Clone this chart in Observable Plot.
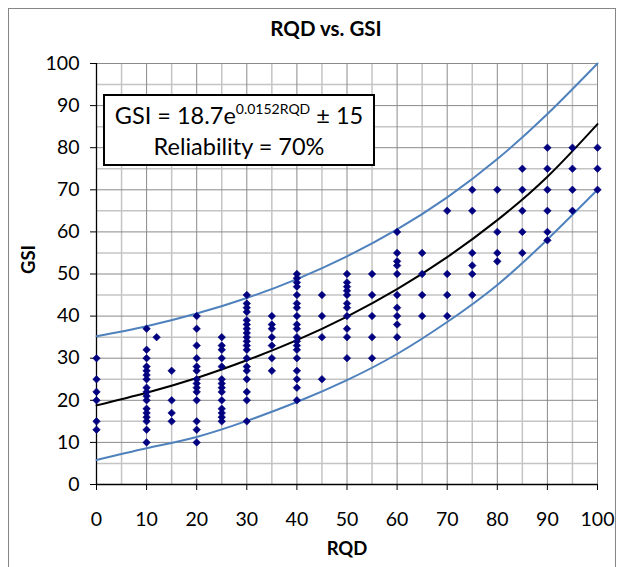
<!DOCTYPE html>
<html>
<head>
<meta charset="utf-8">
<script src="https://cdn.jsdelivr.net/npm/d3@7"></script>
<script src="https://cdn.jsdelivr.net/npm/@observablehq/plot@0.6"></script>
<style>
  html, body { margin: 0; padding: 0; background: #fff; }
  #wrap { position: relative; width: 624px; height: 567px; font-family: Lato, "Open Sans", sans-serif; overflow: hidden; }
  #frame { position: absolute; left: 8px; top: 8px; width: 608px; height: 600px; border: 1px solid #868686; box-sizing: border-box; }
  #title { position: absolute; left: 226px; width: 200px; top: 16px; text-align: center; font-weight: bold; font-size: 20.5px; color: #000; }
  #eq { position: absolute; left: 103px; top: 94px; width: 272px; height: 72px; border: 2px solid #000; background: #fff; box-sizing: border-box; text-align: center; font-size: 23.5px; line-height: 31px; color: #000; padding-top: 4px; }
  #eq sup { font-size: 14px; line-height: 0; vertical-align: 0; position: relative; top: -10px; }
  #chart { position: absolute; left: 0; top: 0; }
</style>
</head>
<body>
<div id="wrap">
  <div id="frame"></div>
  <div id="chart"></div>
  <div id="title">RQD vs. GSI</div>
  <div id="eq">GSI = 18.7e<sup>0.0152RQD</sup> ± 15<br>Reliability = 70%</div>
</div>
<script>
// Observed data: RQD columns and the GSI values plotted in each column
const rqdColumns = [0, 10, 12, 15, 20, 25, 30, 35, 40, 45, 50, 55, 60, 65, 70, 75, 80, 85, 90, 95, 100];
const gsiByColumn = [
  [30, 25, 22, 20, 15, 13],
  [37, 32, 30, 28, 27, 26, 25, 23, 22, 21, 20, 18, 17, 16, 15, 13, 10],
  [35],
  [27, 20, 17, 15],
  [40, 37, 33, 30, 28, 27, 25, 24, 23, 22, 20, 15, 13, 10],
  [35, 33, 32, 30, 28, 25, 24, 23, 22, 20, 18, 17, 16, 15],
  [45, 43, 42, 41, 39, 38, 37, 36, 35, 34, 33, 32, 30, 28, 27, 25, 22, 20, 15],
  [40, 38, 37, 35, 33, 30, 27],
  [50, 49, 48, 47, 45, 43, 42, 40, 38, 37, 35, 34, 33, 32, 30, 27, 25, 23, 20],
  [45, 40, 35, 25],
  [50, 48, 47, 46, 45, 43, 42, 40, 37, 35, 30],
  [50, 45, 40, 35, 30],
  [60, 55, 53, 52, 50, 45, 42, 40, 38, 35],
  [55, 50, 45, 40],
  [65, 50, 45, 40],
  [70, 65, 55, 52, 50, 45],
  [70, 60, 55, 53],
  [75, 70, 65, 60, 55],
  [80, 75, 70, 65, 60, 58],
  [80, 75, 70, 65],
  [80, 75, 70]
];

// Fitted curve and ±15 band
const curveRQD = [0, 10, 20, 30, 40, 50, 60, 70, 80, 90, 100];
const fitGSI   = [18.8, 21.8, 25.3, 29.5, 34.3, 39.9, 46.4, 54.0, 62.8, 73.1, 85.6];
const upperGSI = [35.2, 37.6, 40.6, 44.3, 48.8, 54.2, 60.6, 68.2, 77.3, 88.0, 100];
const lowerGSI = [5.8, 8.6, 11.3, 15.1, 19.6, 24.8, 31.0, 38.6, 47.4, 58.2, 70.0];

const majorTicks = [0, 10, 20, 30, 40, 50, 60, 70, 80, 90, 100];
const minorTicks = [5, 15, 25, 35, 45, 55, 65, 75, 85, 95];

const points = rqdColumns.flatMap((r, i) => gsiByColumn[i].map(g => ({rqd: r, gsi: g})));
const curves = curveRQD.map((r, i) => ({rqd: r, fit: fitGSI[i], up: upperGSI[i], lo: lowerGSI[i]}));

const chart = Plot.plot({
  width: 624,
  height: 567,
  marginLeft: 96,
  marginRight: 27,
  marginTop: 63,
  marginBottom: 83,
  style: {fontFamily: "Lato, 'Open Sans', sans-serif", background: "transparent", overflow: "visible"},
  x: {domain: [0, 100]},
  y: {domain: [0, 100]},
  marks: [
    Plot.ruleX(minorTicks, {stroke: "#c4c4c4", strokeWidth: 1.5}),
    Plot.ruleY(minorTicks, {stroke: "#c4c4c4", strokeWidth: 1.5}),
    Plot.ruleX(majorTicks.slice(1), {stroke: "#8a8a8a", strokeWidth: 1}),
    Plot.ruleY(majorTicks.slice(1), {stroke: "#8a8a8a", strokeWidth: 1}),
    Plot.axisX({ticks: majorTicks, tickSize: 6, tickPadding: 22, fontSize: 19.5, label: null, color: "#000", stroke: "#000"}),
    Plot.axisY({ticks: majorTicks, tickSize: 6, tickPadding: 11, fontSize: 19.5, label: null, color: "#000", stroke: "#000"}),
    Plot.ruleX([0], {stroke: "#000", strokeWidth: 1.3}),
    Plot.ruleY([0], {stroke: "#000", strokeWidth: 1.3}),
    Plot.line(curves, {x: "rqd", y: "up", stroke: "#4f81bd", strokeWidth: 2, curve: "natural"}),
    Plot.line(curves, {x: "rqd", y: "lo", stroke: "#4f81bd", strokeWidth: 2, curve: "natural"}),
    Plot.line(curves, {x: "rqd", y: "fit", stroke: "#000", strokeWidth: 2, curve: "natural"}),
    Plot.dot(points, {x: "rqd", y: "gsi", symbol: "diamond2", r: 3.4, fill: "#000080", stroke: "#000080", strokeWidth: 0.6}),
    Plot.text(["RQD"], {frameAnchor: "bottom", dy: 70, fontWeight: "bold", fontSize: 18.5, fill: "#000"}),
    Plot.text(["GSI"], {frameAnchor: "left", dx: -67, rotate: -90, fontWeight: "bold", fontSize: 18.5, fill: "#000"})
  ]
});
document.getElementById("chart").appendChild(chart);
</script>
</body>
</html>
